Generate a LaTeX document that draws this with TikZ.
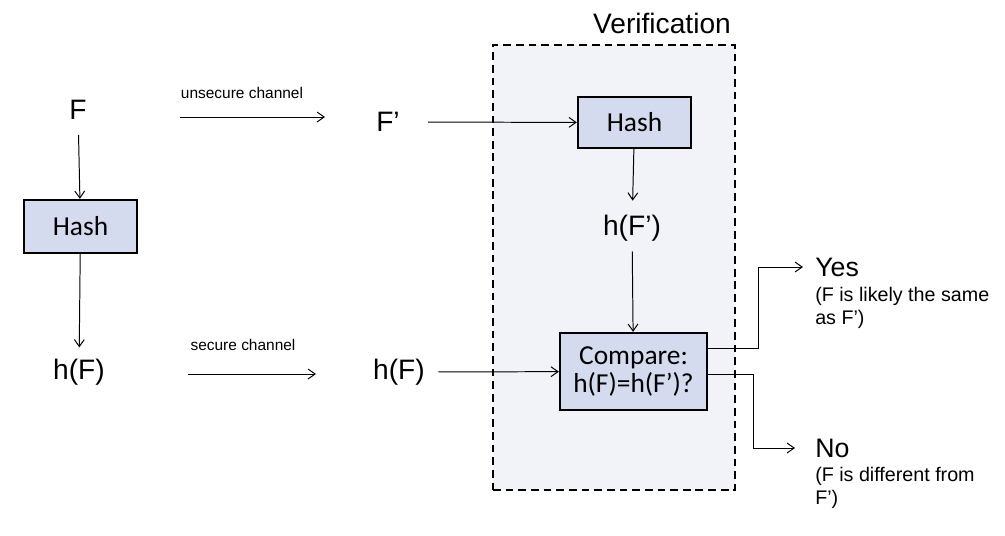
\documentclass[tikz,border=0pt]{standalone}
\usepackage{fontspec}
\setmainfont{Liberation Sans}
\newfontfamily\boxfont{Carlito}
\usetikzlibrary{positioning, arrows.meta}
\definecolor{boxblue}{HTML}{D5DBEE}
\definecolor{verifybg}{HTML}{F2F3F9}

\tikzset{
    big/.style={inner sep=0pt, font=\fontsize{20}{24}\selectfont},
    small/.style={inner sep=0pt, font=\fontsize{11}{13}\selectfont},
    note/.style={inner sep=0pt, align=left, font=\fontsize{14}{16.3}\selectfont},
    hashbox/.style={draw, line width=1.6pt, fill=boxblue, align=center, font=\boxfont\fontsize{19.5}{20.6}\selectfont},
    link/.style={-{Straight Barb[length=5pt, width=7pt]}, line width=0.7pt}
}

\begin{document}
\begin{tikzpicture}[x=0.025cm, y=-0.025cm]
    \useasboundingbox (0,0) rectangle (1005,535);
    % verification area
    \node[draw, dashed, dash pattern=on 5.5pt off 3.5pt, line width=1.6pt, fill=verifybg, inner sep=0pt, minimum width=6.05cm, minimum height=11.125cm] (verify) at (614,267.5) {};
    \node[big] (vtitle) at (662,23) {Verification};

    % sender side
    \node[big] (F) at (78,110) {F};
    \node[hashbox, minimum width=2.825cm, minimum height=1.325cm] (hash1) at (80.5,226.5) {Hash};
    \node[big] (hF) at (79,372) {h(F)};
    \draw[link, shorten <=0.375cm] (F) -- (hash1);
    \draw[link, shorten >=0.28cm] (hash1) -- (hF);

    % channels
    \coordinate (u0) at (180,117);
    \coordinate (u1) at (325,117);
    \node[small] (unsec) at (242,93) {unsecure channel};
    \draw[link] (u0) -- (u1);
    \coordinate (s0) at (188,374);
    \coordinate (s1) at (316,374);
    \node[small] (sec) at (243,345) {secure channel};
    \draw[link] (s0) -- (s1);

    % receiver side
    \node[big] (Fp) at (388,122) {F’};
    \node[big] (hF2) at (399,372) {h(F)};
    \node[hashbox, minimum width=2.825cm, minimum height=1.275cm] (hash2) at (634.5,122.5) {Hash};
    \node[big] (hFp) at (632,228) {h(F’)};
    \node[hashbox, minimum width=3.675cm, minimum height=1.925cm] (compare) at (633.5,371.5) {Compare:\\h(F)=h(F’)?};
    \draw[link, shorten <=0.7cm] (Fp) -- (hash2);
    \draw[link, shorten >=0.35cm] (hash2) -- (hFp);
    \draw[link, shorten <=0.25cm] (hFp) -- (compare);
    \draw[link, shorten <=0.33cm] (hF2) -- (compare);

    % outcomes
    \node[big, anchor=west, font=\fontsize{19}{23}\selectfont] (yes) at (815,267) {Yes};
    \node[note, anchor=north west] (yesnote) at (815,287) {(F is likely the same\\as F’)};
    \node[big, anchor=west, font=\fontsize{19}{23}\selectfont] (no) at (815,448) {No};
    \node[note, anchor=north west] (nonote) at (815,467) {(F is different from\\F’)};
    \draw[link, shorten >=0.3cm] ([yshift=0.5875cm]compare.east) -- ++(50,0) |- (yes);
    \draw[link, shorten >=0.5cm] ([yshift=-0.0625cm]compare.east) -- ++(45,0) |- (no);
\end{tikzpicture}
\end{document}
